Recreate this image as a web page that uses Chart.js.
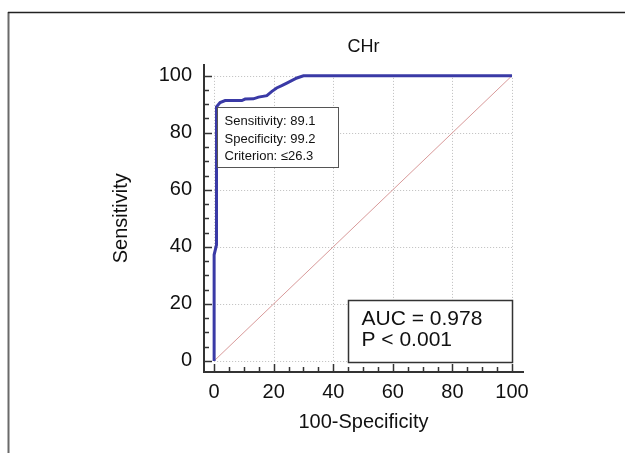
<!DOCTYPE html>
<html>
<head>
<meta charset="utf-8">
<script src="https://cdn.jsdelivr.net/npm/chart.js@4.4.0/dist/chart.umd.min.js"></script>
<style>
  html, body { margin: 0; padding: 0; background: #fff; }
</style>
</head>
<body>
<canvas id="rocChart" width="625" height="453"></canvas>
<script>
// ROC curve for CHr (x = 100-Specificity, y = Sensitivity)
var fpr = [0, 0, 0.8, 0.8, 2.0, 3.7, 9.3, 10.4, 13.2, 14.9, 17.7, 19.4, 21.0, 22.7, 24.4, 27.8, 30.0, 100];
var tpr = [0, 37.2, 40.7, 89.1, 90.6, 91.3, 91.3, 91.8, 91.9, 92.5, 93.0, 94.5, 95.7, 96.5, 97.4, 99.2, 100, 100];

// reference line
var diagX = [0, 100];
var diagY = [0, 100];

var majorTicks = [0, 20, 40, 60, 80, 100];

var criterionPoint = [0.8, 89.1];
var criterionText = ["Sensitivity: 89.1", "Specificity: 99.2", "Criterion: \u226426.3"];
var aucCorner = [45, 21.4];
var aucText = ["AUC = 0.978", "P < 0.001"];

var FONT = "'Liberation Sans', Arial, sans-serif";

function toPoints(xs, ys) {
  return xs.map(function (x, i) {
    return { x: x, y: ys[i] };
  });
}

var rocExtras = {
  id: "rocExtras",
  beforeDraw: function (chart) {
    var ctx = chart.ctx;
    ctx.save();
    ctx.fillStyle = "#fff";
    ctx.fillRect(0, 0, chart.width, chart.height);
    // outer frame (only top and left edges show)
    ctx.strokeStyle = "#6a6a6a";
    ctx.lineWidth = 2;
    ctx.beginPath();
    ctx.moveTo(8.5, 12);
    ctx.lineTo(8.5, chart.height);
    ctx.stroke();
    ctx.strokeStyle = "#222";
    ctx.lineWidth = 1.5;
    ctx.beginPath();
    ctx.moveTo(8, 12.5);
    ctx.lineTo(chart.width, 12.5);
    ctx.stroke();
    ctx.restore();
  },
  beforeDatasetsDraw: function (chart) {
    var ctx = chart.ctx;
    var xs = chart.scales.x, ys = chart.scales.y;
    var x0 = xs.getPixelForValue(0), x1 = xs.getPixelForValue(100);
    var y0 = ys.getPixelForValue(0), y1 = ys.getPixelForValue(100);
    ctx.save();
    ctx.strokeStyle = "#bdbdbd";
    ctx.lineWidth = 1;
    ctx.setLineDash([1, 2]);
    majorTicks.forEach(function (v) {
      var px = Math.round(xs.getPixelForValue(v)) + 0.5;
      ctx.beginPath();
      ctx.moveTo(px, y0);
      ctx.lineTo(px, y1);
      ctx.stroke();
      var py = Math.round(ys.getPixelForValue(v)) + 0.5;
      ctx.beginPath();
      ctx.moveTo(x0, py);
      ctx.lineTo(x1, py);
      ctx.stroke();
    });
    ctx.restore();
  },
  afterDatasetsDraw: function (chart) {
    var ctx = chart.ctx;
    var xs = chart.scales.x, ys = chart.scales.y;
    var area = chart.chartArea;
    ctx.save();

    // inward tick marks, major every 20, minor every 5
    ctx.strokeStyle = "#333";
    ctx.lineWidth = 1.5;
    for (var v = 0; v <= 100; v += 5) {
      var len = v % 20 === 0 ? 8 : 5;
      var px = Math.round(xs.getPixelForValue(v)) + 0.5;
      ctx.beginPath();
      ctx.moveTo(px, area.bottom);
      ctx.lineTo(px, area.bottom - len);
      ctx.stroke();
      var py = Math.round(ys.getPixelForValue(v)) + 0.5;
      ctx.beginPath();
      ctx.moveTo(area.left, py);
      ctx.lineTo(area.left + len, py);
      ctx.stroke();
    }

    // criterion box
    var bx = Math.round(xs.getPixelForValue(criterionPoint[0])) + 0.5;
    var by = Math.round(ys.getPixelForValue(criterionPoint[1])) + 0.5;
    ctx.fillStyle = "#fff";
    ctx.fillRect(bx, by, 121, 60);
    ctx.strokeStyle = "#555";
    ctx.lineWidth = 1;
    ctx.strokeRect(bx, by, 121, 60);
    ctx.fillStyle = "#111";
    ctx.font = "13px " + FONT;
    ctx.textBaseline = "middle";
    ctx.textAlign = "left";
    criterionText.forEach(function (t, i) {
      ctx.fillText(t, bx + 7, by + 14 + i * 17.5);
    });

    // AUC box
    var ax = Math.round(xs.getPixelForValue(aucCorner[0])) + 0.5;
    var ay = Math.round(ys.getPixelForValue(aucCorner[1])) + 0.5;
    var ax2 = Math.round(xs.getPixelForValue(100)) + 0.5;
    var ay2 = Math.round(ys.getPixelForValue(0)) + 1.5;
    ctx.fillStyle = "#fff";
    ctx.fillRect(ax, ay, ax2 - ax, ay2 - ay);
    ctx.strokeStyle = "#333";
    ctx.lineWidth = 1.5;
    ctx.strokeRect(ax, ay, ax2 - ax, ay2 - ay);
    ctx.fillStyle = "#111";
    ctx.font = "21px " + FONT;
    aucText.forEach(function (t, i) {
      ctx.fillText(t, ax + 13, ay + 19 + i * 21);
    });

    ctx.restore();
  }
};

window.onload = function () {
  var ctx = document.getElementById("rocChart");

  new Chart(ctx, {
    type: "scatter",
    data: {
      datasets: [
        {
          label: "ROC",
          data: toPoints(fpr, tpr),
          showLine: true,
          borderColor: "#3a3aa6",
          borderWidth: 3,
          pointRadius: 0,
          tension: 0,
          order: 1,
        },
        {
          label: "Reference",
          data: toPoints(diagX, diagY),
          showLine: true,
          borderColor: "#d99a9a",
          borderWidth: 1,
          pointRadius: 0,
          order: 2,
        },
      ],
    },
    options: {
      responsive: false,
      animation: false,
      layout: {
        padding: { left: 109, right: 102, top: 0, bottom: 19 },
      },
      plugins: {
        legend: { display: false },
        tooltip: { enabled: false },
        title: {
          display: true,
          text: "CHr",
          fullSize: false,
          color: "#111",
          font: { family: FONT, size: 18, weight: "normal" },
          padding: { top: 36, bottom: 7 },
        },
      },
      scales: {
        x: {
          type: "linear",
          min: -3.4,
          max: 103.7,
          afterBuildTicks: function (scale) {
            scale.ticks = majorTicks.map(function (v) { return { value: v }; });
          },
          afterFit: function (scale) {
            scale.height = 62;
          },
          grid: { display: false },
          border: { display: true, color: "#333", width: 2 },
          ticks: {
            autoSkip: false,
            maxRotation: 0,
            padding: 0,
            color: "#111",
            font: { family: FONT, size: 20 },
          },
          title: {
            display: true,
            text: "100-Specificity",
            color: "#111",
            padding: 0,
            font: { family: FONT, size: 20 },
          },
        },
        y: {
          type: "linear",
          min: -3.9,
          max: 103.9,
          afterBuildTicks: function (scale) {
            scale.ticks = majorTicks.map(function (v) { return { value: v }; });
          },
          afterFit: function (scale) {
            scale.width = 95;
          },
          grid: { display: false },
          border: { display: true, color: "#333", width: 2 },
          ticks: {
            autoSkip: false,
            padding: 4,
            color: "#111",
            font: { family: FONT, size: 20 },
          },
          title: {
            display: true,
            text: "Sensitivity",
            color: "#111",
            padding: 0,
            font: { family: FONT, size: 20 },
          },
        },
      },
    },
    plugins: [rocExtras],
  });
};
</script>
</body>
</html>
